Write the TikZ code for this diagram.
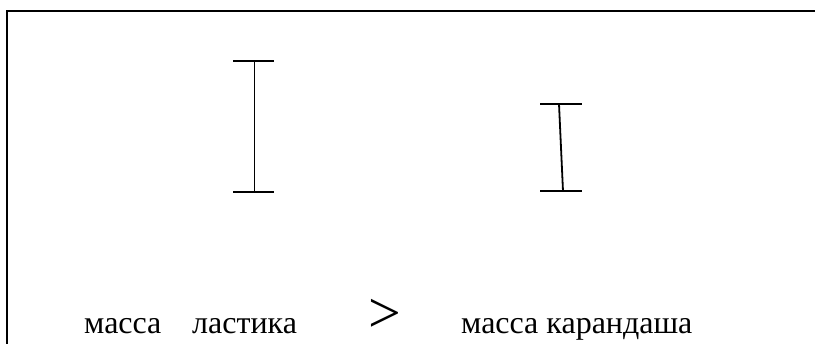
\documentclass[tikz,border=0pt]{standalone}
\usepackage{fontspec}
\setmainfont{Liberation Serif}
\usetikzlibrary{positioning}

\begin{document}
\begin{tikzpicture}[x=1pt, y=-1pt, line join=miter,
    every node/.append style={inner sep=0pt, anchor=base west},
    word/.style={font=\fontsize{32}{36}\selectfont},
    beam/.style={line width=1.8pt}] % 1pt = 1px

  \useasboundingbox (0,0) rectangle (815,344);

  % frame (open at the right and at the bottom)
  \coordinate (fb) at (7,344);
  \coordinate (fc) at (7,11.5);
  \coordinate (fr) at (815,11.5);
  \draw[line width=2pt] (fb) -- (fc) -- (fr);

  % eraser
  \coordinate (e1) at (254.5,61);
  \coordinate (e2) at (254.5,192);
  \draw[beam] (233,61) -- (274,61);
  \draw[beam] (233,192) -- (274,192);
  \draw[beam] (e1) -- (e2);

  % pencil
  \coordinate (p1) at (559,104);
  \coordinate (p2) at (563,191);
  \draw[beam] (540,104) -- (582,104);
  \draw[beam] (540,191) -- (582,191);
  \draw[beam] (p1) -- (p2);

  \node[word] (m1) at (84,334) {масса};
  \node[word] (l1) at (192,334) {ластика};
  \node[font=\fontsize{58}{60}\selectfont] (gt) at (368,333) {>};
  \node[word] (m2) at (461,334) {масса карандаша};
\end{tikzpicture}
\end{document}
